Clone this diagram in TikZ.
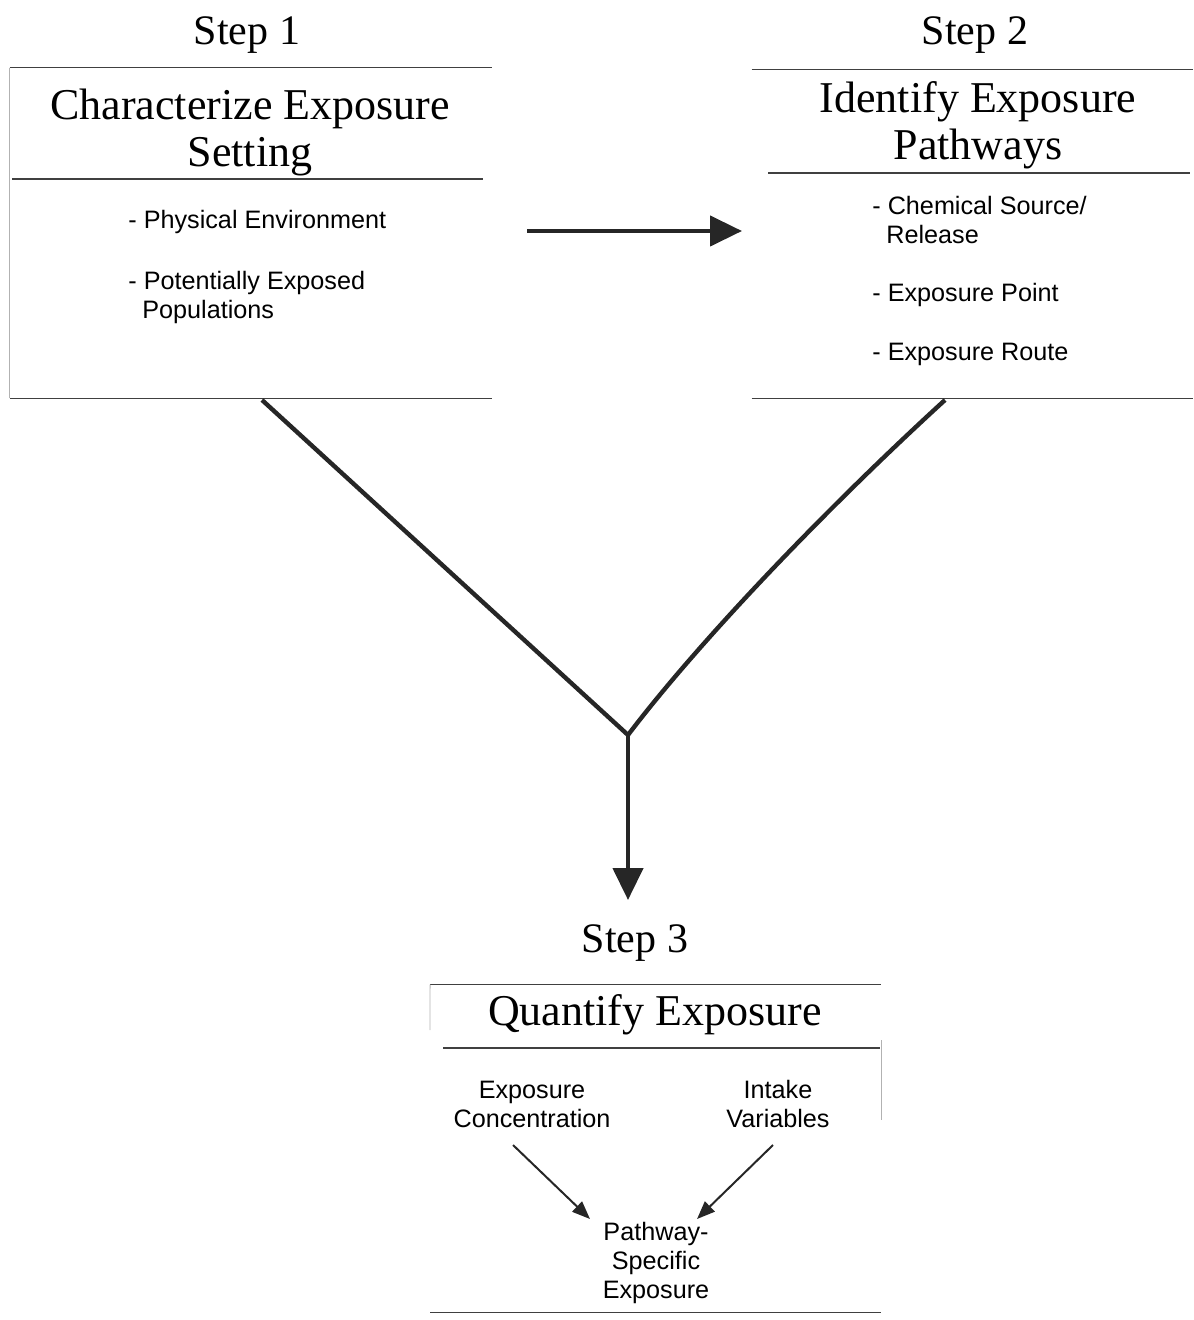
\documentclass[tikz,border=0pt]{standalone}
\usepackage{fontspec}
\setmainfont{Liberation Serif}
\setsansfont{Liberation Sans}
\usepackage{tikz}
\usetikzlibrary{arrows.meta,positioning,calc}

\begin{document}
\begin{tikzpicture}[x=0.5pt,y=-0.5pt,
    steplbl/.style={font=\fontsize{21}{21}\selectfont},
    headtxt/.style={font=\fontsize{22}{23.5}\selectfont,align=center},
    itemtxt/.style={font=\sffamily\fontsize{12.6}{14.5}\selectfont,align=left,anchor=west,inner sep=0pt},
    midtxt/.style={font=\sffamily\fontsize{12.6}{14.5}\selectfont,align=center},
    rule/.style={draw=black!75,line width=0.6pt},
    faint/.style={draw=black!30,line width=0.4pt},
    flow/.style={line width=2.2pt,draw=black!85},
    bigtip/.style={-{Triangle[length=16pt,width=15pt]}},
    smalltip/.style={-{Triangle[length=9pt,width=7pt]},line width=1pt,draw=black!85}]
  \useasboundingbox (0,0) rectangle (1193,1320);

  % Step 1: exposure setting
  \node[steplbl] (s1) at (247,35) {Step 1};
  \node[minimum width=241pt,minimum height=165pt,inner sep=0pt] (set) at (251,233) {};
  \node[headtxt] (sethead) at (250,132) {Characterize Exposure\\Setting};
  \node[itemtxt] (env) at (128,222) {- Physical Environment};
  \node[itemtxt] (pop) at (128,297) {- Potentially Exposed\\\ \ Populations};
  \draw[rule] (set.north west) -- (set.north east);
  \draw[rule] (12,179) -- (483,179);
  \draw[rule] (set.south west) -- (set.south east);
  \draw[faint] (set.north west) -- (set.south west);

  % Step 2: pathways
  \node[steplbl] (s2) at (975,35) {Step 2};
  \node[minimum width=220.5pt,minimum height=164pt,inner sep=0pt] (path) at (972.5,234) {};
  \node[headtxt] (pathhead) at (978,125) {Identify Exposure\\Pathways};
  \node[itemtxt] (src) at (872,220) {- Chemical Source/\\\ \ Release};
  \node[itemtxt] (pnt) at (872,295) {- Exposure Point};
  \node[itemtxt] (rte) at (872,354) {- Exposure Route};
  \draw[rule] (path.north west) -- (path.north east);
  \draw[rule] (768,173) -- (1190,173);
  \draw[rule] (path.south west) -- (path.south east);

  % arrow between the two
  \coordinate (h1) at (527,231);
  \coordinate (h2) at (742,231);
  \draw[flow,bigtip] (h1) -- (h2);

  % merge into step 3
  \coordinate (legA) at (262,400);
  \coordinate (legB) at (945,400);
  \coordinate (join) at (628,735);
  \coordinate (tip) at (628,900);
  \draw[flow] (legA) -- (join);
  \draw[flow] (legB) .. controls (830,505) and (700,640) .. (join);
  \draw[flow,bigtip] (join) -- (tip);

  % Step 3: quantify
  \node[steplbl] (s3) at (635,943) {Step 3};
  \node[minimum width=225pt,minimum height=163.5pt,inner sep=0pt] (quant) at (655.5,1148.5) {};
  \node[headtxt] (quanthead) at (655,1015) {Quantify Exposure};
  \draw[rule] (quant.north west) -- (quant.north east);
  \draw[rule] (443,1048) -- (880,1048);
  \draw[rule] (quant.south west) -- (quant.south east);
  \draw[faint] (quant.north west) -- (430,1030);
  \draw[faint] (881,1040) -- (881,1120);
  \node[midtxt] (conc) at (532,1104) {Exposure\\Concentration};
  \node[midtxt] (intake) at (778,1104) {Intake\\Variables};
  \node[midtxt] (spec) at (656,1263) {Pathway-\\Specific\\Exposure};
  \coordinate (c1) at (513,1145);
  \coordinate (c2) at (590,1219);
  \coordinate (v1) at (773,1145);
  \coordinate (v2) at (697,1219);
  \draw[smalltip] (c1) -- (c2);
  \draw[smalltip] (v1) -- (v2);
\end{tikzpicture}
\end{document}
